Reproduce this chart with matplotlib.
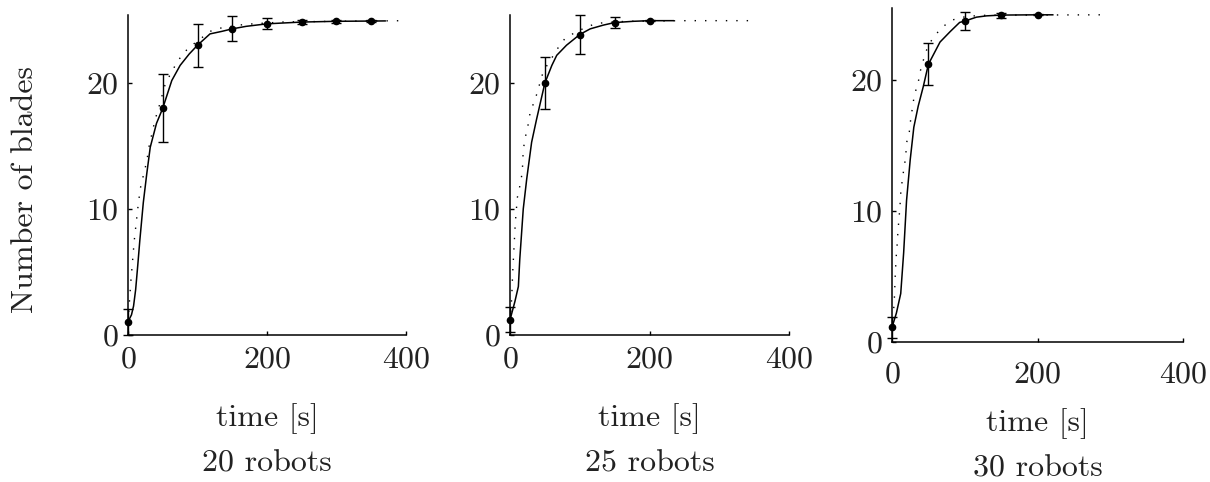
import numpy as np
from matplotlib import pyplot as plt

plt.rcParams['font.family'] = 'serif'
plt.rcParams['font.serif'] = ['cmr10']
plt.rcParams['mathtext.fontset'] = 'cm'
plt.rcParams['axes.formatter.use_mathtext'] = True

# measured points (mean and std) at every 50 s
t_20 = [0, 50, 100, 150, 200, 250, 300, 350]
mean_20 = [1.05, 18.0, 23.0, 24.3, 24.7, 24.84, 24.9, 24.92]
err_20 = [1.05, 2.7, 1.7, 1.0, 0.45, 0.15, 0.1, 0.05]

t_25 = [0, 50, 100, 150, 200]
mean_25 = [1.2, 20.0, 23.85, 24.8, 24.95]
err_25 = [1.0, 2.1, 1.55, 0.47, 0.05]

t_30 = [0, 50, 100, 150, 200]
mean_30 = [1.12, 21.2, 24.5, 24.95, 24.98]
err_30 = [0.8, 1.6, 0.7, 0.2, 0.05]

# simulated average (solid)
sim_t_20 = [0, 5, 8, 11, 14, 17, 22, 27, 32, 41, 50, 63, 75, 88, 100, 118, 135, 150, 170, 200, 250, 300, 350, 370]
sim_y_20 = [1.05, 1.6, 2.3, 3.6, 5.5, 7.5, 10.5, 12.8, 14.9, 16.8, 18.0, 20.2, 21.4, 22.3, 23.0, 23.9, 24.1, 24.3,
            24.5, 24.7, 24.84, 24.9, 24.92, 24.93]

sim_t_25 = [0, 7, 12, 14, 19, 24, 31, 38, 50, 60, 67, 81, 100, 115, 134, 150, 177, 200, 234]
sim_y_25 = [1.2, 2.65, 3.85, 6.0, 10.0, 12.4, 15.3, 17.1, 20.0, 21.4, 22.2, 23.0, 23.85, 24.3, 24.6, 24.8, 24.9,
            24.95, 24.95]

sim_t_30 = [0, 6, 12, 16, 20, 25, 30, 36, 43, 50, 66, 80, 93, 100, 116, 130, 150, 200, 221]
sim_y_30 = [1.12, 2.2, 3.7, 6.8, 10.8, 13.9, 16.4, 18.0, 19.5, 21.2, 22.9, 23.7, 24.4, 24.5, 24.8, 24.9, 24.96,
            24.98, 24.98]

# model prediction (dotted)
mod_t_20 = [0, 2, 4, 6, 9, 12, 15, 18, 21, 27, 31, 35, 39, 44, 53, 60, 70, 80, 92, 104, 118, 132, 160, 180, 225, 300, 400]
mod_y_20 = [1.0, 2.6, 4.2, 5.5, 7.5, 9.0, 10.5, 11.7, 12.4, 13.8, 15.2, 16.1, 17.1, 18.0, 19.8, 20.6, 21.6, 22.4,
            23.0, 23.5, 24.1, 24.35, 24.6, 24.7, 24.85, 24.9, 24.95]

mod_t_25 = [0, 2.4, 3.8, 5.7, 7.6, 10.5, 14, 17.6, 19, 22, 26, 29, 36, 41, 45, 53, 60, 69, 79, 93, 108, 122, 136, 167,
            253, 351]
mod_y_25 = [1.0, 2.9, 4.9, 6.9, 8.9, 10.9, 11.8, 12.9, 14.7, 15.7, 16.7, 17.7, 18.7, 19.6, 20.5, 21.4, 22.0, 22.8,
            23.55, 24.0, 24.4, 24.7, 24.8, 24.9, 24.95, 24.95]

mod_t_30 = [0, 2.7, 3.7, 4.1, 5, 5.9, 7.3, 8.2, 9.6, 11, 12, 14.2, 16.5, 18.8, 20, 23.8, 25.7, 28.4, 30.7, 36, 38.5,
            43, 47.6, 54.5, 63.6, 73, 84, 97.5, 113.5, 130, 288]
mod_y_30 = [1.0, 2.8, 3.8, 4.7, 5.7, 6.6, 7.6, 8.5, 9.4, 10.4, 11.35, 12.4, 13.3, 14.1, 15.2, 16.05, 17.0, 18.0,
            18.85, 19.8, 20.6, 21.5, 22.3, 23.05, 23.7, 24.2, 24.6, 24.8, 24.9, 24.95, 24.98]

titles = ['20 robots', '25 robots', '30 robots']

W, H = 1210.0, 482.0
# axes boxes in pixels: left, right, top, bottom
boxes = [(128, 406, 15, 335), (510, 789, 15, 335), (892, 1183, 8, 342)]
ytops = [25.4, 25.4, 25.5]
xpads = [8, 8, 14]
# baselines of the two text lines below each panel (pixels)
text_y = [(426, 471.5), (426, 471.5), (431.5, 476.5)]
fs = 23

data = [(t_20, mean_20, err_20, sim_t_20, sim_y_20, mod_t_20, mod_y_20),
        (t_25, mean_25, err_25, sim_t_25, sim_y_25, mod_t_25, mod_y_25),
        (t_30, mean_30, err_30, sim_t_30, sim_y_30, mod_t_30, mod_y_30)]

fig = plt.figure(figsize=(W / 100, H / 100), dpi=100)

for i in range(3):
    l, r, top, bot = boxes[i]
    ax = fig.add_axes([l / W, 1 - bot / H, (r - l) / W, (bot - top) / H])
    t, m, e, st, sy, mt, my = data[i]

    ax.plot(mt, my, color='black', linewidth=1.0, dashes=(1, 6.5), clip_on=False)
    ax.plot(st, sy, color='black', linewidth=1.1, clip_on=False)
    ax.errorbar(t, m, yerr=e, fmt='o', color='black', markersize=4.5, capsize=3.5,
                elinewidth=1.0, capthick=1.0, clip_on=False)

    ax.set_xlim(0, 400)
    ax.set_ylim(0, ytops[i])
    ax.set_xticks([0, 200, 400])
    ax.set_yticks([0, 10, 20])
    ax.spines['top'].set_visible(False)
    ax.spines['right'].set_visible(False)
    ax.spines['left'].set_linewidth(1.1)
    ax.spines['bottom'].set_linewidth(1.1)
    ax.tick_params(direction='in', length=3, width=1.0, labelsize=fs, labelcolor='#222222')
    ax.tick_params(axis='x', pad=xpads[i])
    ax.tick_params(axis='y', pad=6.5)

    cx = (l + r) / 2.0 / W
    fig.text(cx, 1 - text_y[i][0] / H, 'time [s]', ha='center', va='baseline', fontsize=fs, color='#222222')
    fig.text(cx, 1 - text_y[i][1] / H, titles[i], ha='center', va='baseline', fontsize=fs, color='#222222')

fig.text(25 / W, 1 - 190 / H, 'Number of blades', rotation=90, ha='center', va='center', fontsize=fs,
         color='#222222')

plt.savefig('out.png', dpi=100)
